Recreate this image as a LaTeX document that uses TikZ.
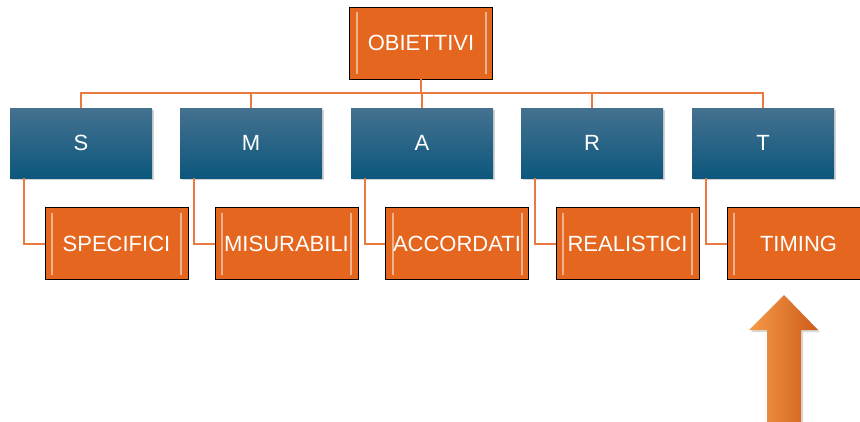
\documentclass[tikz,border=0pt]{standalone}
\usepackage{fontspec}
\setmainfont{Liberation Sans}
\usepackage{tikz}
\usetikzlibrary{shadows}

\definecolor{myorange}{HTML}{E4661F}
\definecolor{mylightorange}{HTML}{F59A48}
\definecolor{mylineorange}{HTML}{EB7A3F}
\definecolor{mybluetop}{HTML}{45718F}
\definecolor{mybluebot}{HTML}{0C577D}

\tikzset{
  letterbox/.style={minimum width=142pt, minimum height=70pt, inner sep=0pt,
    top color=mybluetop, bottom color=mybluebot, text=white,
    font=\fontsize{22}{24}\selectfont,
    drop shadow={opacity=0.35, shadow xshift=2pt, shadow yshift=-2pt}},
  wordbox/.style={minimum width=143pt, minimum height=72pt, inner sep=0pt,
    fill=myorange, draw=black, line width=0.8pt, text=white,
    font=\fontsize{22}{24}\selectfont,
    path picture={
      \draw [white!50!myorange, line width=2pt]
        ([xshift=7pt,yshift=-5pt]path picture bounding box.north west) --
        ([xshift=7pt,yshift=5pt]path picture bounding box.south west);
      \draw [white!50!myorange, line width=2pt]
        ([xshift=-7pt,yshift=-5pt]path picture bounding box.north east) --
        ([xshift=-7pt,yshift=5pt]path picture bounding box.south east);
    }},
  conn/.style={mylineorange, line width=2pt}
}

\begin{document}
\begin{tikzpicture}[x=1pt,y=-1pt]
\useasboundingbox (0,0) rectangle (860,421);
\clip (0,0) rectangle (860,421);

% top box
\node [wordbox] (obj) at (421,43) {OBIETTIVI};

% letters
\node [letterbox] (s) at (81,143) {S};
\node [letterbox] (m) at (251,143) {M};
\node [letterbox] (a) at (422,143) {A};
\node [letterbox] (r) at (592,143) {R};
\node [letterbox] (t) at (763,143) {T};

% words
\node [wordbox] (spec) at (116.5,243.5) {SPECIFICI};
\node [wordbox] (misu) at (286.5,243.5) {MISURABILI};
\node [wordbox] (acco) at (457,243.5) {ACCORDATI};
\node [wordbox] (real) at (627.5,243.5) {REALISTICI};
\node [wordbox] (timi) at (798.5,243.5) {TIMING};

% connectors
\foreach \n in {s,m,a,r,t}
  \draw [conn] (obj.south) -- ++(0,14) -| (\n.north);
\draw [conn] ([xshift=14pt]s.south west) |- (spec.west);
\draw [conn] ([xshift=14pt]m.south west) |- (misu.west);
\draw [conn] ([xshift=14pt]a.south west) |- (acco.west);
\draw [conn] ([xshift=14pt]r.south west) |- (real.west);
\draw [conn] ([xshift=14pt]t.south west) |- (timi.west);

% arrow
\shade [left color=mylightorange, middle color=myorange,
  right color=myorange!90!black,
  drop shadow={opacity=0.3, shadow xshift=2pt, shadow yshift=-2pt}]
  (784,295) -- (818,330) -- (801,330) -- (801,425) -- (767,425)
  -- (767,330) -- (749,330) -- cycle;
\end{tikzpicture}
\end{document}
